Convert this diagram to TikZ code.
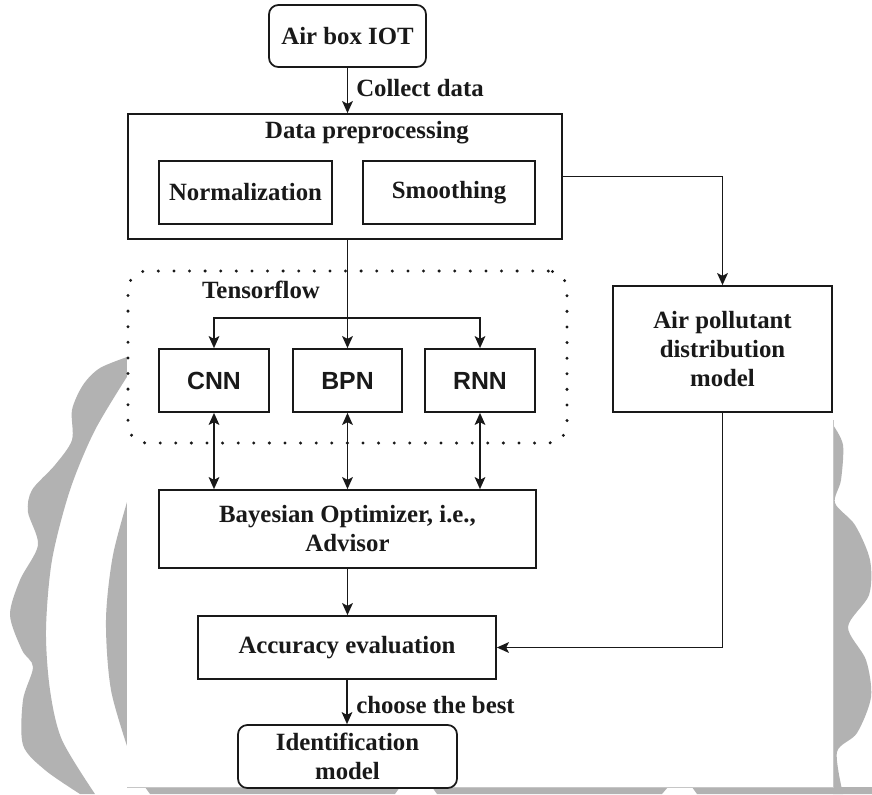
\documentclass[tikz,border=0pt]{standalone}
\usepackage{fontspec}
\setmainfont{Liberation Serif}
\newfontfamily\sansb{Liberation Sans}
\usetikzlibrary{arrows.meta}
\definecolor{wm}{RGB}{178,178,178}
\definecolor{ink}{RGB}{25,25,25}
\newcommand\fsz{\fontsize{18.6}{21.75}\selectfont}
\begin{document}
\begin{tikzpicture}[x=0.75pt,y=-0.75pt,
  box/.style={draw=ink, line width=1.3pt, inner sep=0pt, font=\fsz\bfseries, text=ink, align=center, fill=white},
  bx/.style 2 args={minimum width=#1*0.75pt, minimum height=#2*0.75pt},
  lbl/.style={inner sep=0pt, font=\fsz\bfseries, text=ink},
  sansbox/.style={box, font=\fsz\sansb\bfseries},
  dotbox/.style={draw=ink, line width=2.5pt, line cap=round, dash pattern=on 0pt off 11.7pt, rounded corners=14pt, inner sep=0pt},
  arr/.style={draw=ink, line width=1.3pt, -{Stealth[length=9pt,width=8pt,inset=2pt]}},
  darr/.style={draw=ink, line width=1.3pt, {Stealth[length=9pt,width=8pt,inset=2pt]}-{Stealth[length=9pt,width=8pt,inset=2pt]}}
]
\useasboundingbox (0,0) rectangle (872,794);
\fill[white] (0,0) rectangle (872,794);
% watermark
\fill[wm] plot[smooth] coordinates {(130,356) (100,368) (83,385) (72,410) (72,440) (55,465) (32,490) (28,512) (38,545) (20,580) (10,615) (22,650) (33,667) (23,700) (23,745) (45,770) (80,794)}
  -- (95,794) -- plot[smooth] coordinates {(95,794) (62,740) (50,690) (46,630) (52,560) (70,490) (95,430) (130,372)} -- cycle;
\fill[wm] plot[smooth] coordinates {(130,492) (113,555) (106,620) (111,690) (130,755)} -- cycle;
\fill[wm] (833,425) -- plot[smooth] coordinates {(833,425) (843,445) (841,480) (835,503) (855,525) (870,560) (869,595) (848,627) (866,660) (871,697) (857,733) (837,752) (843,794)} -- (833,794) -- cycle;
\fill[wm] (145,787) -- (400,787) -- (395,794) -- (150,794) -- cycle;
\fill[wm] (432,787) -- (668,787) -- (662,794) -- (437,794) -- cycle;
\fill[wm] (692,787) -- (872,787) -- (872,794) -- (697,794) -- cycle;
\fill[white] (127,0) rectangle (833,787);
\draw[gray!45, line width=0.5pt] (833,420) -- (833,787) -- (127,787);
% nodes
\node[box, rounded corners=7pt, bx={157}{62}] (air) at (347.5,36) {Air box IOT};
\node[box, bx={434}{125}] (prep) at (345,176.5) {};
\node[lbl] (preptitle) at (367,133) {Data preprocessing};
\node[box, bx={173}{63}] (norm) at (245.5,192.5) {Normalization};
\node[box, bx={172}{63}] (smooth) at (449,192.5) {Smoothing};
\node[dotbox, bx={439}{172}] (tf) at (347.5,357) {};
\node[lbl] (tftitle) at (261,290) {Tensorflow};
\node[sansbox, bx={110}{63}] (cnn) at (214,380.5) {CNN};
\node[sansbox, bx={109}{63}] (bpn) at (347.5,380.5) {BPN};
\node[sansbox, bx={110}{63}] (rnn) at (480,380.5) {RNN};
\node[box, bx={377}{78}] (bayes) at (347.5,529) {Bayesian Optimizer, i.e.,\\Advisor};
\node[box, bx={298}{63}] (acc) at (347,647.5) {Accuracy evaluation};
\node[box, rounded corners=7pt, bx={219}{63}] (ident) at (347.5,756.5) {Identification\\model};
\node[box, bx={219}{126}] (apd) at (722.5,349) {Air pollutant\\distribution\\model};
% connectors
\draw[arr] (air.south) -- (air.south |- prep.north);
\node[lbl, anchor=west] (collect) at (356,88) {Collect data};
\draw[arr] (air.south |- prep.south) -- (air.south |- bpn.north);
\coordinate (br) at (347.5,318);
\draw[arr] (br) -| (cnn.north);
\draw[arr] (br) -| (rnn.north);
\draw[darr] (cnn.south) -- (cnn.south |- bayes.north);
\draw[darr] (bpn.south) -- (bpn.south |- bayes.north);
\draw[darr] (rnn.south) -- (rnn.south |- bayes.north);
\draw[arr] (bayes.south) -- (bayes.south |- acc.north);
\draw[arr] (acc.south) -- (acc.south |- ident.north);
\node[lbl, anchor=west] (choose) at (356,705) {choose the best};
\draw[arr] (prep.east) -| (apd.north);
\draw[arr] (apd.south) |- (acc.east);
\end{tikzpicture}
\end{document}
